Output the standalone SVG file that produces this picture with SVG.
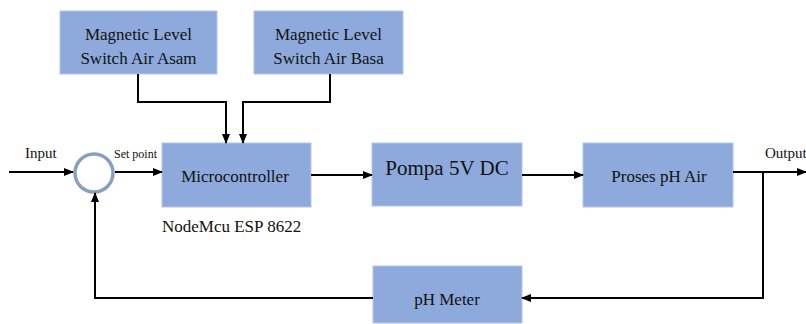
<svg xmlns="http://www.w3.org/2000/svg" width="806" height="324" viewBox="0 0 806 324">
<defs>
<marker id="ah" markerWidth="10" markerHeight="8" refX="9" refY="4" orient="auto" markerUnits="userSpaceOnUse">
<path d="M0,0 L10,4 L0,8 z" fill="#000"/>
</marker>
</defs>
<style>
.box{fill:#8eaadc;stroke:#b4c6e7;stroke-width:1}
.t{fill:#111;text-anchor:middle}
.c{fill:none;stroke:#000;stroke-width:2}
</style>
<rect width="806" height="324" fill="#fff"/>
<g font-family="Liberation Serif, Times New Roman, DejaVu Serif, serif">
<g id="asam"><rect class="box" x="60" y="11" width="157" height="63"/><text class="t" x="138.5" y="40" font-size="17">Magnetic Level</text><text class="t" x="138.5" y="64" font-size="17">Switch Air Asam</text></g>
<g id="basa"><rect class="box" x="254" y="11" width="149" height="63"/><text class="t" x="328.5" y="40" font-size="17">Magnetic Level</text><text class="t" x="328.5" y="64" font-size="17">Switch Air Basa</text></g>
<g id="micro"><rect class="box" x="162" y="143" width="149" height="64"/><text class="t" x="235" y="182" font-size="17">Microcontroller</text></g>
<g id="pompa"><rect class="box" x="372" y="143" width="150" height="63"/><text class="t" x="447" y="175" font-size="21">Pompa 5V DC</text></g>
<g id="proses"><rect class="box" x="583" y="143" width="150" height="64"/><text class="t" x="659" y="182" font-size="17">Proses pH Air</text></g>
<g id="phmeter"><rect class="box" x="373" y="266" width="149" height="57"/><text class="t" x="447" y="305" font-size="17">pH Meter</text></g>
<g id="sum"><circle cx="94" cy="173" r="19" fill="#fff" stroke="#8a9fbd" stroke-width="3.5"/></g>
<g id="labels">
<text x="25" y="158" font-size="15" fill="#111">Input</text>
<text x="114" y="158" font-size="12" fill="#111">Set point</text>
<text x="765" y="158" font-size="15" fill="#111">Output</text>
<text x="162" y="232" font-size="17" fill="#111">NodeMcu ESP 8622</text>
</g>
</g>
<g id="connectors">
<line class="c" x1="9" y1="172" x2="73" y2="172" marker-end="url(#ah)"/>
<line class="c" x1="115" y1="172" x2="162" y2="172" marker-end="url(#ah)"/>
<polyline class="c" points="138,74 138,102 226,102 226,143" marker-end="url(#ah)"/>
<polyline class="c" points="330,74 330,102 243,102 243,143" marker-end="url(#ah)"/>
<line class="c" x1="311" y1="175" x2="372" y2="175" marker-end="url(#ah)"/>
<line class="c" x1="522" y1="175" x2="583" y2="175" marker-end="url(#ah)"/>
<line class="c" x1="733" y1="172" x2="806" y2="172" marker-end="url(#ah)"/>
<polyline class="c" points="763,172 763,298 522,298" marker-end="url(#ah)"/>
<polyline class="c" points="373,298 95,298 95,193" marker-end="url(#ah)"/>
</g>
</svg>
